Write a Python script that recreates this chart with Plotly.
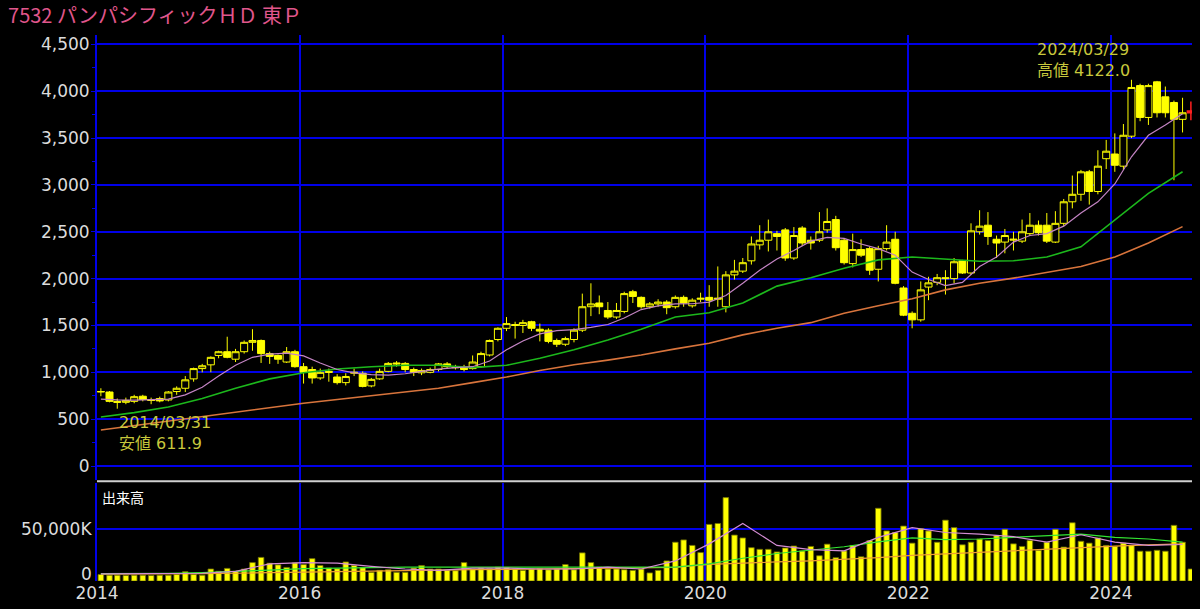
import pandas as pd
import plotly.graph_objects as go
from plotly.subplots import make_subplots

# monthly candles, Jan 2014 .. Oct 2024 (last one is the running month, drawn red)
open_ = [790, 790, 690, 680, 690, 745, 710, 720, 705, 795, 830, 930,
         1040, 1080, 1180, 1220, 1140, 1220, 1320, 1340, 1200, 1180, 1110, 1220,
         1060, 1030, 940, 1010, 950, 890, 990, 990, 855, 930, 1010, 1100,
         1095, 1030, 995, 1000, 1030, 1090, 1060, 1050, 1040, 1060, 1185, 1350,
         1470, 1510, 1500, 1540, 1460, 1450, 1340, 1300, 1350, 1450, 1700, 1740,
         1660, 1590, 1650, 1860, 1800, 1700, 1730, 1750, 1700, 1800, 1710, 1780,
         1800, 1780, 1700, 2040, 2080, 2190, 2360, 2410, 2480, 2520, 2220, 2540,
         2410, 2410, 2520, 2630, 2410, 2160, 2310, 2320, 2100, 2320, 2420, 1900,
         1630, 1560, 1910, 1960, 2010, 2000, 2190, 2060, 2500, 2570, 2420, 2390,
         2410, 2400, 2480, 2570, 2570, 2390, 2590, 2820, 2900, 3140, 2930, 3280,
         3330, 3200, 3520, 4060, 3720, 4100, 3940, 3880, 3700, 3770]
high_ = [830, 800, 720, 730, 760, 760, 730, 740, 800, 850, 960, 1050,
         1090, 1170, 1230, 1380, 1250, 1340, 1460, 1350, 1220, 1190, 1270, 1240,
         1100, 1060, 1040, 1040, 980, 990, 1040, 1010, 940, 1040, 1110, 1120,
         1110, 1050, 1040, 1050, 1100, 1110, 1080, 1080, 1180, 1220, 1350, 1480,
         1590, 1540, 1560, 1550, 1520, 1470, 1360, 1380, 1470, 1840, 1950, 1820,
         1750, 1740, 1860, 1880, 1810, 1750, 1780, 1770, 1820, 1820, 1790, 1850,
         1930, 2130, 2080, 2200, 2220, 2450, 2570, 2630, 2510, 2540, 2550, 2560,
         2450, 2710, 2750, 2670, 2430, 2480, 2420, 2340, 2350, 2570, 2500, 1920,
         1650, 1970, 2020, 2050, 2090, 2220, 2200, 2590, 2730, 2710, 2460, 2530,
         2500, 2630, 2700, 2620, 2700, 2720, 2850, 3100, 3160, 3160, 3370, 3480,
         3550, 3650, 4122.0, 4080, 4080, 4110, 4050, 3900, 3930, 3890]
low_ = [745, 680, 611.9, 660, 670, 690, 660, 680, 690, 760, 790, 900,
        1000, 1001, 1150, 1150, 1110, 1200, 1230, 1100, 1090, 1090, 1100, 1050,
        880, 880, 920, 900, 870, 860, 960, 840, 840, 920, 1000, 1060,
        1000, 960, 970, 990, 1010, 1040, 1030, 1010, 1030, 1050, 1170, 1330,
        1440, 1360, 1420, 1440, 1330, 1310, 1270, 1280, 1320, 1430, 1600, 1620,
        1570, 1570, 1630, 1740, 1680, 1680, 1700, 1620, 1680, 1700, 1690, 1750,
        1700, 1700, 1640, 1990, 2060, 2150, 2310, 2290, 2300, 2190, 2200, 2350,
        2310, 2390, 2490, 2300, 2150, 2120, 2230, 2040, 1970, 2300, 1940, 1600,
        1470, 1540, 1770, 1930, 1830, 1950, 2050, 2040, 2470, 2360, 2220, 2270,
        2300, 2380, 2460, 2460, 2380, 2380, 2560, 2750, 2830, 2790, 2900, 3170,
        3140, 3160, 3500, 3680, 3640, 3720, 3720, 3050, 3560, 3690]
close_ = [795, 690, 680, 700, 740, 710, 700, 695, 790, 830, 920, 1040,
          1070, 1160, 1220, 1160, 1220, 1320, 1340, 1200, 1170, 1140, 1220, 1060,
          1000, 940, 1000, 1000, 890, 955, 1000, 850, 925, 1010, 1095, 1090,
          1030, 1000, 1020, 1030, 1090, 1060, 1050, 1030, 1110, 1200, 1340, 1470,
          1520, 1500, 1530, 1470, 1440, 1330, 1300, 1360, 1450, 1700, 1730, 1700,
          1590, 1660, 1840, 1810, 1700, 1730, 1750, 1690, 1800, 1740, 1770, 1790,
          1770, 1790, 2040, 2080, 2170, 2370, 2410, 2500, 2450, 2220, 2460, 2380,
          2380, 2500, 2610, 2330, 2170, 2310, 2250, 2090, 2320, 2390, 1950, 1610,
          1560, 1880, 1955, 2010, 2000, 2180, 2060, 2510, 2560, 2450, 2380, 2460,
          2420, 2500, 2570, 2490, 2400, 2590, 2820, 2900, 3140, 2930, 3200, 3360,
          3210, 3530, 4040, 3720, 4060, 3770, 3770, 3700, 3770, 3790]

# volume in thousands of shares
volume_k = [6250, 5600, 5600, 5300, 5600, 5600, 5300, 5600, 5600, 6250, 9000, 6250,
            5600, 11600, 9400, 12200, 9400, 11600, 17800, 22800, 17200, 15600, 13100, 17500,
            15900, 21600, 15000, 12500, 11900, 18400, 15000, 13100, 8400, 10300, 10900, 8400,
            8400, 12500, 15000, 11600, 11600, 10300, 10000, 17800, 11600, 12500, 11900, 13400,
            13100, 11600, 10300, 11600, 11900, 10900, 11600, 15900, 10900, 27200, 17800, 13400,
            11600, 11600, 10900, 10300, 11600, 7800, 10300, 19400, 37500, 39700, 34400, 27500,
            54700, 55600, 80600, 44400, 41600, 32200, 30600, 30600, 28100, 31900, 33800, 29100,
            33400, 24400, 35600, 22500, 29100, 34400, 23400, 39100, 70300, 48400, 46900, 53100,
            36600, 50600, 48400, 37500, 58800, 51600, 35000, 37500, 40600, 39100, 43800, 50000,
            35900, 33400, 39100, 29700, 37500, 50000, 32800, 56300, 38400, 36600, 41600, 34400,
            33400, 36600, 34400, 28800, 28800, 29700, 28800, 53800, 37500, 11600]

# moving averages (pink every 2 months, others every 4 months)
ma_short = [715, 705, 704, 708, 715, 760, 840, 960, 1075, 1160, 1195, 1205, 1175, 1100,
            1030, 995, 975, 970, 985, 1010, 1035, 1050, 1060, 1120, 1240, 1335, 1410, 1445,
            1455, 1480, 1510, 1580, 1670, 1710, 1730, 1732, 1750, 1820, 1950, 2090, 2210,
            2300, 2400, 2440, 2430, 2370, 2320, 2250, 2070, 1990, 1925, 1960, 2130, 2230,
            2390, 2460, 2480, 2560, 2700, 2820, 3010, 3300, 3530, 3640, 3760]
ma_mid = [523, 570, 630, 720, 830, 930, 995, 1035, 1060, 1075, 1075, 1050, 1075, 1150,
          1240, 1345, 1460, 1590, 1635, 1740, 1920, 2010, 2110, 2200, 2230, 2210, 2185,
          2190, 2230, 2340, 2630, 2910, 3140]
ma_long = [384, 430, 480, 530, 575, 625, 670, 710, 750, 790, 830, 890, 950, 1020, 1080,
           1130, 1185, 1250, 1310, 1400, 1470, 1530, 1630, 1710, 1785, 1880, 1950, 2005,
           2070, 2130, 2230, 2380, 2555]
vol_ma_short = [6900, 6900, 6900, 7500, 9400, 16600, 17800, 17200, 14100, 11600, 10300,
                12500, 12500, 11600, 11600, 13400, 11600, 19400, 35900, 55600, 34400, 30300,
                29100, 42200, 51600, 46900, 45300, 42800, 37500, 44700, 37500, 34400, 35300]
vol_ma_mid = [7200, 7200, 7500, 8100, 9000, 10600, 11900, 12500, 13400, 13400, 13400, 13400,
              13400, 13100, 12800, 12800, 12800, 13400, 16600, 22000, 26600, 30000, 33100,
              37800, 41600, 40000, 40600, 42200, 43800, 45300, 42200, 40600, 37500]
vol_ma_long = [6600, 6600, 6900, 7200, 7500, 8100, 8800, 9400, 10000, 10300, 10600, 10900,
               11200, 11600, 11900, 12200, 12500, 13100, 16000, 17500, 18400, 19400, 20600,
               22500, 24700, 26300, 27800, 29400, 30900, 32500, 33800, 35000, 35900]

year_ticks = ["2014", "2016", "2018", "2020", "2022", "2024"]

months = pd.date_range("2014-01-01", periods=len(close_), freq="MS") + pd.Timedelta(days=14)
i_hi = high_.index(max(high_))
i_lo = low_.index(min(low_))

GRID = "#0000e8"
YEL = "#ffff00"
ANN = "#c8c83c"
TXT = "#dcdcdc"
FONT = "DejaVu Sans, Noto Sans CJK JP"

fig = make_subplots(rows=2, cols=1, shared_xaxes=True)

fig.add_trace(go.Candlestick(
    x=months[:-1], open=open_[:-1], high=high_[:-1], low=low_[:-1], close=close_[:-1],
    increasing=dict(line=dict(color=YEL, width=1), fillcolor="#000000"),
    decreasing=dict(line=dict(color=YEL, width=1), fillcolor=YEL),
    whiskerwidth=0, showlegend=False, hoverinfo="skip"), row=1, col=1)
fig.add_trace(go.Candlestick(
    x=months[-1:], open=open_[-1:], high=high_[-1:], low=low_[-1:], close=close_[-1:],
    increasing=dict(line=dict(color="#ff2020", width=1.5), fillcolor="#ff2020"),
    decreasing=dict(line=dict(color="#ff2020", width=1.5), fillcolor="#ff2020"),
    showlegend=False, hoverinfo="skip"), row=1, col=1)

for vals, step, col, w in [(ma_long, 4, "#d8743c", 1.6), (ma_mid, 4, "#1cb81c", 1.6),
                           (ma_short, 2, "#c484c4", 1.2)]:
    fig.add_trace(go.Scatter(x=months[::step][:len(vals)], y=vals, mode="lines",
                             line=dict(color=col, width=w), showlegend=False,
                             hoverinfo="skip"), row=1, col=1)

fig.add_trace(go.Bar(x=months, y=volume_k,
                     marker=dict(color=YEL, line=dict(color="#707000", width=0.8)),
                     showlegend=False, hoverinfo="skip"), row=2, col=1)
for vals, col in [(vol_ma_long, "#f0a030"), (vol_ma_mid, "#33e633"), (vol_ma_short, "#d48cd4")]:
    fig.add_trace(go.Scatter(x=months[::4][:len(vals)], y=vals, mode="lines",
                             line=dict(color=col, width=1.2), showlegend=False,
                             hoverinfo="skip"), row=2, col=1)

fig.add_annotation(x=months[i_hi], y=high_[i_hi], xref="x", yref="y",
                   text=f"{months[i_hi].year}/03/29<br>高値 {high_[i_hi]:.1f}",
                   showarrow=False, xanchor="left", yanchor="bottom", align="left",
                   xshift=-96, yshift=-2, font=dict(size=16, color=ANN, family=FONT))
fig.add_annotation(x=months[i_lo], y=low_[i_lo], xref="x", yref="y",
                   text=f"{months[i_lo].year}/03/31<br>安値 {low_[i_lo]:.1f}",
                   showarrow=False, xanchor="left", yanchor="top", align="left",
                   xshift=0, yshift=-2, font=dict(size=16, color=ANN, family=FONT))
fig.add_annotation(x=0.003, y=0.175, xref="paper", yref="paper", text="出来高",
                   showarrow=False, xanchor="left", yanchor="top",
                   font=dict(size=14, color="#ffffff", family="Noto Sans CJK JP"))
# zero label of the volume panel, kept clear of the year labels
fig.add_annotation(x=0, y=0, xref="paper", yref="y2", text="0", showarrow=False,
                   xanchor="right", yanchor="bottom", xshift=-3, yshift=-5,
                   font=dict(size=17, color=TXT, family=FONT))
fig.add_shape(type="line", xref="paper", yref="paper", x0=0, x1=1, y0=0.1825, y1=0.1825,
              line=dict(color="#d0d0d0", width=2))

fig.update_layout(
    template="none",
    width=1200, height=609,
    margin=dict(l=97, r=8, t=35, b=28),
    paper_bgcolor="#000000", plot_bgcolor="#000000",
    font=dict(family=FONT, size=17, color=TXT),
    title=dict(text="7532 パンパシフィックＨＤ 東Ｐ", x=0.0067, xanchor="left", y=0.986, yanchor="top",
               font=dict(size=20, color="#e0568c", family="Noto Sans CJK JP")),
    bargap=0.28, boxgap=0.05, boxgroupgap=0.05,
)
xcommon = dict(range=["2014-01-01", "2024-10-19"], type="date",
               tickvals=[f"{y}-01-01" for y in year_ticks], ticktext=year_ticks,
               showgrid=True, gridcolor=GRID, gridwidth=2, zeroline=False,
               showline=False, ticks="", automargin=False, minor=dict(showgrid=False),
               rangeslider=dict(visible=False), tickfont=dict(size=17, color=TXT))
fig.update_xaxes(**xcommon)
fig.update_xaxes(showticklabels=False, row=1, col=1)
fig.update_yaxes(domain=[0.185, 1.0], range=[-149, 4600], tickvals=list(range(0, 4501, 500)),
                 tickformat=",d", showgrid=True, gridcolor=GRID, gridwidth=2, zeroline=False,
                 showline=True, linecolor=GRID, linewidth=2, ticks="outside", ticklen=4,
                 tickcolor=GRID, automargin=False, ticklabelstandoff=-2,
                 minor=dict(dtick=250, tick0=0, ticklen=3, tickcolor=GRID, ticks="outside",
                            showgrid=False),
                 tickfont=dict(size=17, color=TXT), row=1, col=1)
fig.update_yaxes(domain=[0.0, 0.18], range=[0, 95000], tickvals=[50000],
                 ticktext=["50,000K"], showgrid=True, gridcolor=GRID, gridwidth=2,
                 zeroline=False, showline=True, linecolor=GRID, linewidth=2, ticks="",
                 automargin=False, tickfont=dict(size=17, color=TXT), row=2, col=1)

# the page's default body margin would shift the chart by 8px
fig.write_html("out.html", config={"displayModeBar": False},
               post_script="document.body.style.margin='0';")
